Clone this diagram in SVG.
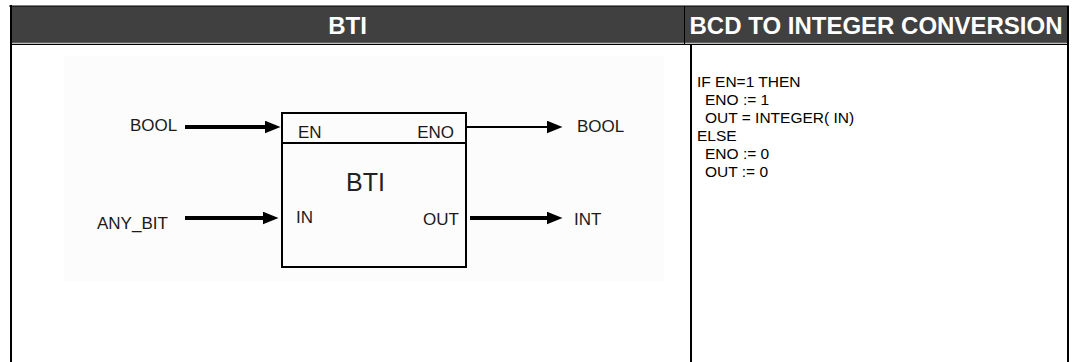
<svg xmlns="http://www.w3.org/2000/svg" width="1075" height="362" viewBox="0 0 1075 362">
<style>
.hdr{font-family:"Liberation Sans",Arial,sans-serif;font-weight:bold;font-size:24px;fill:#ffffff}
.lbl{font-family:"Liberation Sans",Arial,sans-serif;font-size:17px;fill:#1a1a1a}
.code{font-family:"Liberation Sans",Arial,sans-serif;font-size:15.5px;fill:#000000}
.border{stroke:#000000;stroke-width:2;fill:none}
.thick{stroke:#000000;stroke-width:4;fill:none}
.thin{stroke:#000000;stroke-width:2;fill:none}
</style>
<defs>
<marker id="arr" markerUnits="userSpaceOnUse" markerWidth="17" markerHeight="14" refX="0.5" refY="6.5" orient="auto">
<path d="M0,0 L16,6.5 L0,13 Z" fill="#000000"/>
</marker>
</defs>
<rect width="1075" height="362" fill="#ffffff"/>
<g id="table">
<rect x="11" y="6" width="1057" height="37" fill="#404040"/>
<line x1="9" y1="6" x2="1069" y2="6" stroke="#000000" stroke-width="1"/>
<line x1="11" y1="43" x2="1068" y2="43" stroke="#808080" stroke-width="1"/>
<line x1="11" y1="44.5" x2="1068" y2="44.5" stroke="#000000" stroke-width="1"/>
<line x1="684.5" y1="6" x2="684.5" y2="44" stroke="#000000" stroke-width="1"/>
<line x1="11" y1="5" x2="11" y2="362" class="border"/>
<line x1="1068" y1="6" x2="1068" y2="362" class="border"/>
<line x1="691" y1="44" x2="691" y2="362" class="border"/>
<text class="hdr" x="347.5" y="34" text-anchor="middle">BTI</text>
<text class="hdr" x="876" y="34" text-anchor="middle">BCD TO INTEGER CONVERSION</text>
</g>
<rect x="64" y="56" width="600" height="225" fill="#fcfcfc"/>
<g id="block">
<rect x="282" y="113" width="184" height="154" fill="none" class="border"/>
<line x1="282" y1="143" x2="466" y2="143" class="border"/>
<text x="346" y="191" font-family="Liberation Sans, Arial, sans-serif" font-size="25" fill="#222222">BTI</text>
<text class="lbl" x="298" y="138">EN</text>
<text class="lbl" x="296" y="223">IN</text>
<text class="lbl" x="454" y="138" text-anchor="end">ENO</text>
<text class="lbl" x="459" y="224.5" text-anchor="end">OUT</text>
</g>
<g id="in-en"><text class="lbl" x="130" y="130.5">BOOL</text></g>
<g id="in-in"><text class="lbl" x="97" y="229">ANY_BIT</text></g>
<g id="out-eno"><text class="lbl" x="577" y="132">BOOL</text></g>
<g id="out-out"><text class="lbl" x="574" y="224.5">INT</text></g>
<g id="connectors">
<line x1="185" y1="127" x2="265" y2="127" class="thick" marker-end="url(#arr)"/>
<line x1="185" y1="218" x2="263" y2="218" class="thick" marker-end="url(#arr)"/>
<line x1="467" y1="127" x2="547" y2="127" class="thin" marker-end="url(#arr)"/>
<line x1="470" y1="218" x2="547" y2="218" class="thick" marker-end="url(#arr)"/>
</g>
<g id="logic">
<text class="code" x="697" y="87">IF EN=1 THEN</text>
<text class="code" x="705" y="105">ENO := 1</text>
<text class="code" x="705" y="123">OUT = INTEGER( IN)</text>
<text class="code" x="697" y="141">ELSE</text>
<text class="code" x="705" y="159">ENO := 0</text>
<text class="code" x="705" y="177">OUT := 0</text>
</g>
</svg>
